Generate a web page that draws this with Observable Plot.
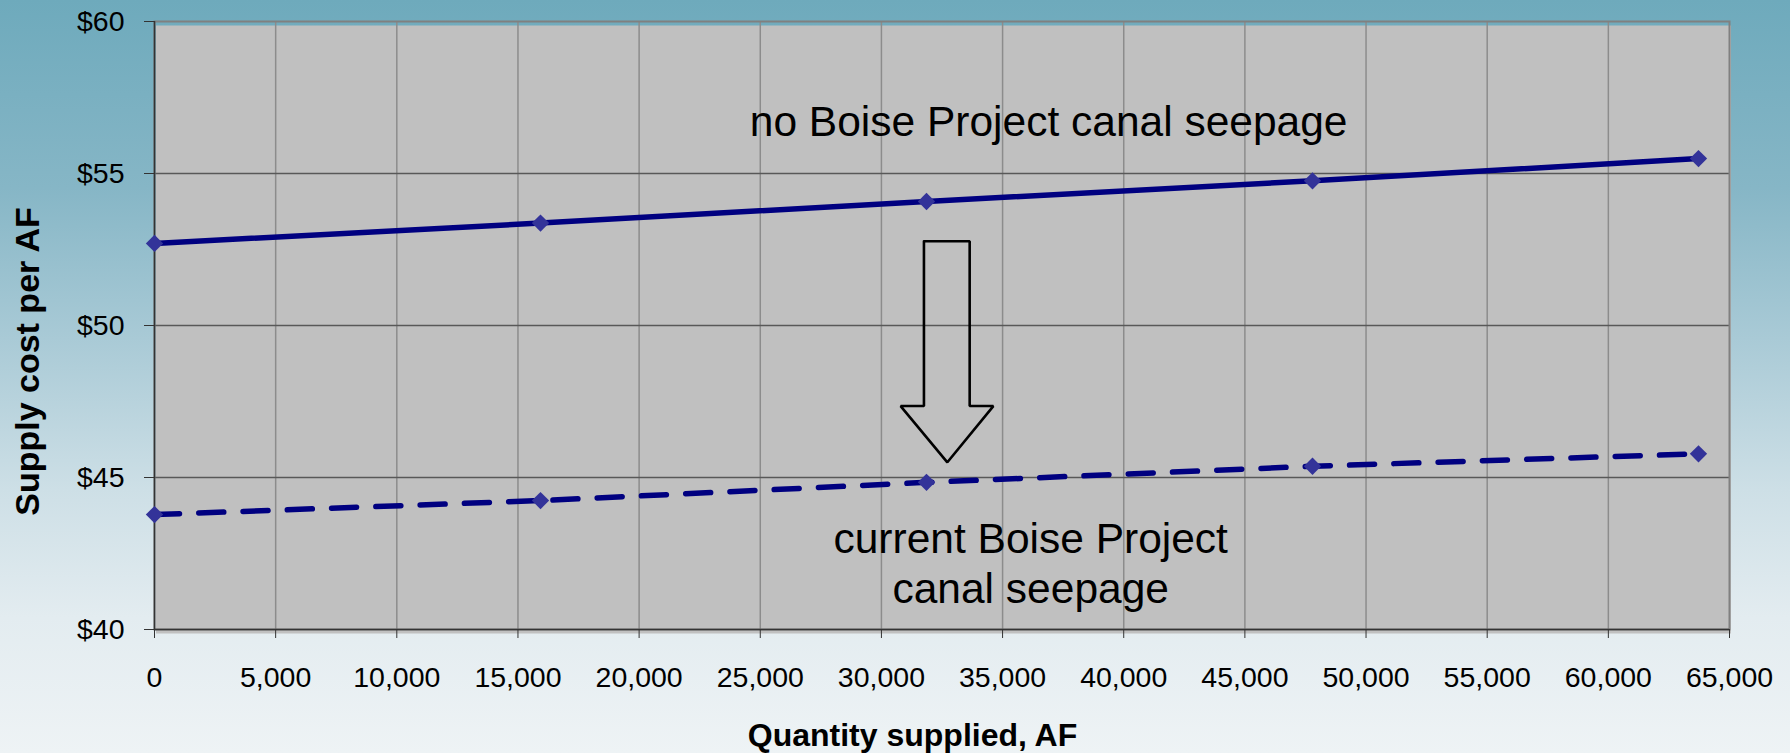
<!DOCTYPE html>
<html>
<head>
<meta charset="utf-8">
<script src="https://cdn.jsdelivr.net/npm/d3@7"></script>
<script src="https://cdn.jsdelivr.net/npm/@observablehq/plot@0.6"></script>
<style>
  html, body { margin: 0; padding: 0; }
  body {
    width: 1790px; height: 753px; overflow: hidden;
    background: linear-gradient(to bottom, #6eaabc 0%, #86b6c6 25%, #a9cad6 45%, #cddfe6 65%, #e3ecf0 82%, #eef3f5 100%);
    font-family: "Liberation Sans", Arial, sans-serif;
  }
  svg { display: block; background: transparent !important; }
</style>
</head>
<body>
<div id="chart"></div>
<script>
// ---- data ----
const quantity = [0, 15930, 31860, 47790, 63720];
const costNoSeepage = [52.7, 53.37, 54.08, 54.76, 55.49];
const costCurrentSeepage = [43.78, 44.24, 44.84, 45.37, 45.78];

const xTicks = d3.range(0, 65001, 5000);
const yTicks = [40, 45, 50, 55, 60];

const labelNo = ["no Boise Project canal seepage"];
const labelNoPos = [{x: 36900, y: 56.69}];
const labelCurrent = ["current Boise Project\ncanal seepage"];
const labelCurrentPos = [{x: 36160, y: 42.22}];

// arrow outline (data units)
const arrowX = [31755, 33642, 33642, 34620, 32721, 30793, 31755, 31755];
const arrowY = [52.77, 52.77, 47.35, 47.35, 45.50, 47.35, 47.35, 52.77];

const xTitle = "Quantity supplied, AF";
const yTitle = "Supply cost per AF";

// ---- build tables ----
const solid = quantity.map((q, i) => ({q, c: costNoSeepage[i]}));
const dashed = quantity.map((q, i) => ({q, c: costCurrentSeepage[i]}));
const arrow = arrowX.map((x, i) => ({x, y: arrowY[i]}));

const fmtX = d3.format(",");
const fmtY = d => "$" + d;

const chart = Plot.plot({
  width: 1790,
  height: 753,
  marginTop: 21,
  marginRight: 61,
  marginBottom: 124,
  marginLeft: 154,
  style: {background: "transparent", fontFamily: "'Liberation Sans', Arial, sans-serif", color: "#000"},
  x: {domain: [0, 65000], ticks: xTicks},
  y: {domain: [40, 60], ticks: yTicks},
  marks: [
    Plot.frame({fill: "#c0c0c0", dx: 1.5, dy: 4}),
    Plot.ruleX(xTicks.filter(d => d > 0 && d < 65000), {stroke: "#8c8c8c", strokeWidth: 1.5}),
    Plot.ruleY(yTicks.filter(d => d > 40 && d < 60), {stroke: "#585858", strokeWidth: 1.5}),
    Plot.frame({stroke: "#808080", strokeWidth: 2}),
    Plot.ruleX([0], {stroke: "#333", strokeWidth: 1.5}),
    Plot.ruleY([40], {stroke: "#333", strokeWidth: 1.5}),
    Plot.axisX({ticks: xTicks, tickFormat: fmtX, tickSize: 9, tickPadding: 28, fontSize: 28.5, label: null, stroke: "#333"}),
    Plot.axisY({ticks: yTicks, tickFormat: fmtY, tickSize: 10, tickPadding: 20, fontSize: 28.5, label: null, stroke: "#333"}),
    Plot.line(arrow, {x: "x", y: "y", stroke: "#000", strokeWidth: 2.6, strokeLinejoin: "miter", fill: "none"}),
    Plot.line(solid, {x: "q", y: "c", stroke: "#000080", strokeWidth: 5.5}),
    Plot.line(dashed, {x: "q", y: "c", stroke: "#000080", strokeWidth: 5.5, strokeDasharray: "25,19.3"}),
    Plot.dot(solid, {x: "q", y: "c", symbol: "diamond2", r: 7.8, fill: "#333399", stroke: "none"}),
    Plot.dot(dashed, {x: "q", y: "c", symbol: "diamond2", r: 7.8, fill: "#333399", stroke: "none"}),
    Plot.text(labelNoPos, {x: "x", y: "y", text: (d, i) => labelNo[i], fontSize: 42.5, fill: "#000", textAnchor: "middle", lineAnchor: "middle"}),
    Plot.text(labelCurrentPos, {x: "x", y: "y", text: (d, i) => labelCurrent[i], fontSize: 42.5, lineHeight: 1.19, fill: "#000", textAnchor: "middle", lineAnchor: "middle"}),
    Plot.text([xTitle], {frameAnchor: "bottom", text: d => d, dx: -29.5, dy: 105.8, fontSize: 32, fontWeight: "bold", fill: "#000", textAnchor: "middle", lineAnchor: "middle"}),
    Plot.text([yTitle], {frameAnchor: "left", text: d => d, rotate: -90, dx: -126, dy: 36, fontSize: 34, fontWeight: "bold", fill: "#000", textAnchor: "middle", lineAnchor: "middle"})
  ]
});
document.getElementById("chart").appendChild(chart);
</script>
</body>
</html>
